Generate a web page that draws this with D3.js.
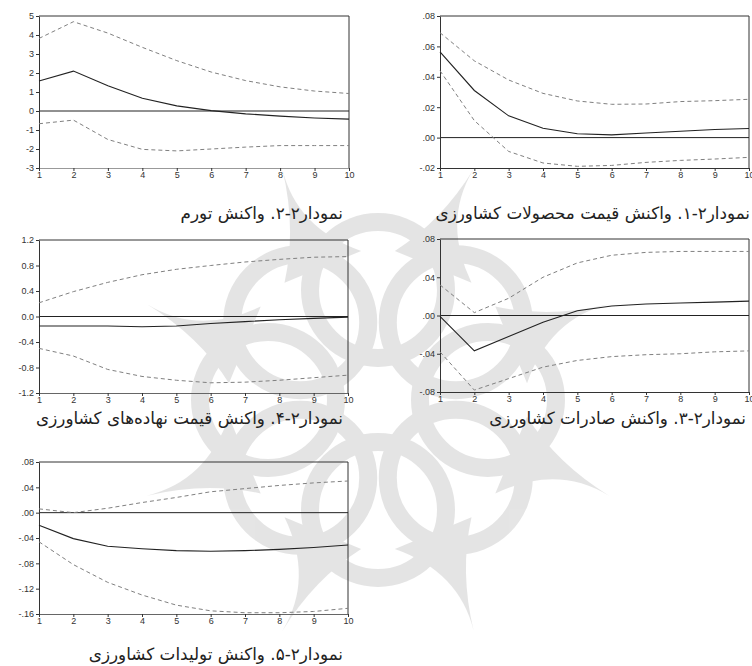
<!DOCTYPE html>
<html>
<head>
<meta charset="utf-8">
<script src="https://cdn.jsdelivr.net/npm/d3@7"></script>
<style>
  body { margin: 0; background: #fff; }
  .tick text { font-family: "Liberation Sans", Arial, sans-serif; font-size: 9px; fill: #333; }
  .caption { font-family: "DejaVu Sans", sans-serif; font-size: 16.8px; fill: #222; }
</style>
</head>
<body>
<svg id="chart" width="752" height="666"></svg>
<script>
const periods = [1, 2, 3, 4, 5, 6, 7, 8, 9, 10];

// inflation response
const inflMid   = [1.58, 2.1, 1.33, 0.67, 0.27, 0.02, -0.15, -0.27, -0.37, -0.43];
const inflUpper = [3.82, 4.7, 4.1, 3.35, 2.65, 2.05, 1.6, 1.27, 1.05, 0.92];
const inflLower = [-0.67, -0.48, -1.5, -2.02, -2.1, -2.0, -1.9, -1.82, -1.82, -1.82];
const inflTicks = [-3, -2, -1, 0, 1, 2, 3, 4, 5];

// agricultural product price response
const priceMid   = [0.0564, 0.031, 0.0143, 0.0062, 0.0025, 0.0018, 0.003, 0.0042, 0.0053, 0.006];
const priceUpper = [0.069, 0.0505, 0.0379, 0.0291, 0.0241, 0.0219, 0.0221, 0.0237, 0.0243, 0.0252];
const priceLower = [0.044, 0.0112, -0.0091, -0.0167, -0.0189, -0.0183, -0.0163, -0.015, -0.0141, -0.013];
const priceTicks = [-0.02, 0, 0.02, 0.04, 0.06, 0.08];

// input price response
const inputMid   = [-0.15, -0.15, -0.15, -0.16, -0.15, -0.11, -0.08, -0.05, -0.03, -0.01];
const inputUpper = [0.215, 0.39, 0.535, 0.655, 0.74, 0.8, 0.855, 0.896, 0.93, 0.94];
const inputLower = [-0.5, -0.62, -0.83, -0.94, -1.0, -1.04, -1.03, -1.0, -0.96, -0.92];
const inputTicks = [-1.2, -0.8, -0.4, 0, 0.4, 0.8, 1.2];

// export response
const exportMid   = [-0.001, -0.037, -0.022, -0.007, 0.005, 0.01, 0.012, 0.013, 0.014, 0.015];
const exportUpper = [0.032, 0.003, 0.018, 0.04, 0.055, 0.063, 0.066, 0.067, 0.067, 0.067];
const exportLower = [-0.038, -0.078, -0.066, -0.054, -0.047, -0.043, -0.041, -0.04, -0.038, -0.037];
const exportTicks = [-0.08, -0.04, 0, 0.04, 0.08];

// production response
const prodMid   = [-0.02, -0.041, -0.053, -0.057, -0.06, -0.061, -0.06, -0.058, -0.055, -0.051];
const prodUpper = [0.006, 0.0, 0.007, 0.016, 0.024, 0.033, 0.038, 0.043, 0.047, 0.05];
const prodLower = [-0.046, -0.082, -0.11, -0.13, -0.146, -0.155, -0.158, -0.158, -0.156, -0.151];
const prodTicks = [-0.16, -0.12, -0.08, -0.04, 0, 0.04, 0.08];

const captions = [
  'نمودار۲-۲. واکنش تورم',
  'نمودار۲-۱. واکنش قیمت محصولات کشاورزی',
  'نمودار۲-۴. واکنش قیمت نهاده‌های کشاورزی',
  'نمودار۲-۳. واکنش صادرات کشاورزی',
  'نمودار۲-۵. واکنش تولیدات کشاورزی'
];

// eviews style: drop the leading zero (.08, -.02)
const fmtSmall = d => d3.format('.2f')(d).replace('−', '-').replace(/^(-?)0\./, '$1.');
const fmtOne = d => d3.format('.1f')(d).replace('−', '-');
const fmtInt = d => String(d);

const panels = [
  { mid: inflMid, up: inflUpper, lo: inflLower, ticks: inflTicks, fmt: fmtInt,
    left: 39, right: 349, top: 16, bottom: 168, capX: 343, capY: 219, cap: captions[0], baseCol: '#999' },
  { mid: priceMid, up: priceUpper, lo: priceLower, ticks: priceTicks, fmt: fmtSmall,
    left: 440, right: 749, top: 16, bottom: 168, capX: 750, capY: 219, cap: captions[1], baseCol: '#333' },
  { mid: inputMid, up: inputUpper, lo: inputLower, ticks: inputTicks, fmt: fmtOne,
    left: 39, right: 348, top: 240, bottom: 393, capX: 343, capY: 424, cap: captions[2], baseCol: '#666' },
  { mid: exportMid, up: exportUpper, lo: exportLower, ticks: exportTicks, fmt: fmtSmall,
    left: 440, right: 749, top: 239, bottom: 392, capX: 746, capY: 424, cap: captions[3], baseCol: '#333' },
  { mid: prodMid, up: prodUpper, lo: prodLower, ticks: prodTicks, fmt: fmtSmall,
    left: 39, right: 348, top: 462, bottom: 614, capX: 343, capY: 660, cap: captions[4], baseCol: '#666' }
];

const svg = d3.select('#chart');

// background watermark (rough rosette)
function drawLogo(g, cx, cy) {
  g.attr('transform', `translate(${cx},${cy})`).attr('opacity', 0.55);
  const n = 8;
  for (let i = 0; i < n; i++) {
    const a = (i / n) * 2 * Math.PI;
    g.append('circle')
      .attr('cx', 110 * Math.cos(a)).attr('cy', 110 * Math.sin(a))
      .attr('r', 68)
      .attr('fill', 'none').attr('stroke', '#cfcfcf').attr('stroke-width', 18);
  }
  for (let i = 0; i < n; i++) {
    const a = ((i + 0.5) / n) * 2 * Math.PI;
    const tip = 250, base = 150, w = 0.28;
    const p = [
      [base * Math.cos(a - w), base * Math.sin(a - w)],
      [tip * Math.cos(a), tip * Math.sin(a)],
      [base * Math.cos(a + w), base * Math.sin(a + w)]
    ];
    const c1 = [190 * Math.cos(a - 0.05), 190 * Math.sin(a - 0.05)];
    g.append('path')
      .attr('d', `M${p[0]}Q${c1} ${p[1]}Q${c1} ${p[2]}Z`)
      .attr('fill', '#cfcfcf');
  }
}
drawLogo(svg.append('g'), 378, 400);

panels.forEach(p => {
  const x = d3.scaleLinear().domain([1, 10]).range([p.left, p.right]);
  const y = d3.scaleLinear().domain([p.ticks[0], p.ticks[p.ticks.length - 1]]).range([p.bottom, p.top]);
  const g = svg.append('g');

  g.append('path')
    .attr('d', `M${p.left},${p.top}H${p.right}V${p.bottom}`)
    .attr('fill', 'none').attr('stroke', '#333').attr('stroke-width', 1);

  g.append('line')
    .attr('x1', p.left).attr('x2', p.right)
    .attr('y1', y(0)).attr('y2', y(0))
    .attr('stroke', '#222').attr('stroke-width', 1);

  const ya = g.append('g')
    .attr('transform', `translate(${p.left},0)`)
    .call(d3.axisLeft(y).tickValues(p.ticks).tickFormat(p.fmt).tickSize(3).tickSizeOuter(0).tickPadding(2));
  const xa = g.append('g')
    .attr('transform', `translate(0,${p.bottom})`)
    .call(d3.axisBottom(x).tickValues(periods).tickFormat(d3.format('d')).tickSize(3).tickSizeOuter(0).tickPadding(1));
  ya.select('.domain').attr('stroke', '#333');
  xa.select('.domain').attr('stroke', p.baseCol);
  [ya, xa].forEach(a => {
    a.selectAll('.tick line').attr('stroke', '#333');
    a.selectAll('.tick text').attr('font-size', null).attr('font-family', null);
  });

  const line = d3.line().x((d, i) => x(periods[i])).y(d => y(d));

  [p.up, p.lo].forEach(s => {
    g.append('path').datum(s)
      .attr('d', line)
      .attr('fill', 'none').attr('stroke', '#808080').attr('stroke-width', 1)
      .attr('stroke-dasharray', '4,3');
  });
  g.append('path').datum(p.mid)
    .attr('d', line)
    .attr('fill', 'none').attr('stroke', '#222').attr('stroke-width', 1.1);

  g.append('text')
    .attr('class', 'caption')
    .attr('x', p.capX).attr('y', p.capY)
    .attr('direction', 'rtl')
    .attr('text-anchor', 'start')
    .text(p.cap);
});
</script>
</body>
</html>
